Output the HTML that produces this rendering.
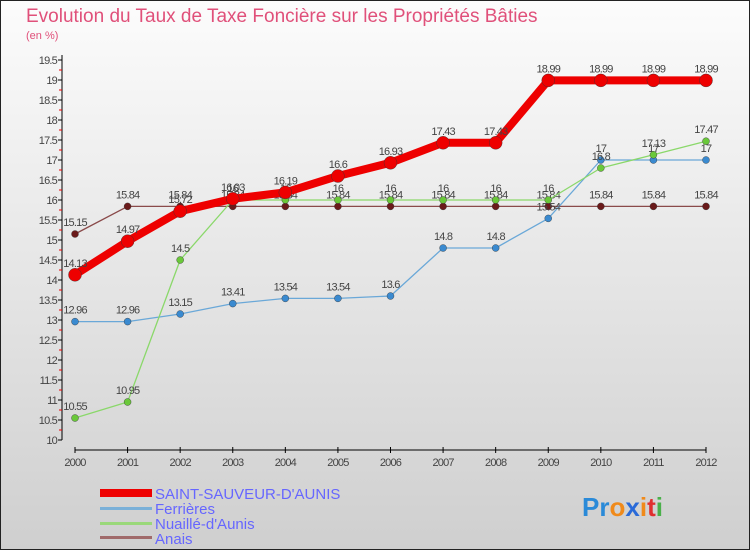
<!DOCTYPE html>
<html><head><meta charset="utf-8"><style>
body{margin:0;width:750px;height:550px;overflow:hidden;font-family:"Liberation Sans",sans-serif}
svg text{font-family:"Liberation Sans",sans-serif}
</style></head><body>
<svg width="750" height="550">
<defs><linearGradient id="bg" x1="0" y1="0" x2="0" y2="1"><stop offset="0" stop-color="#fcfcfc"/><stop offset="1" stop-color="#cfcfcf"/></linearGradient></defs>
<rect x="0.5" y="0.5" width="749" height="549" fill="url(#bg)" stroke="#222"/>
<text x="26" y="22" font-size="19" fill="#e0507a">Evolution du Taux de Taxe Foncière sur les Propriétés Bâties</text>
<text x="26" y="39" font-size="11" fill="#e0507a">(en %)</text>
<g id="axes"></g><g id="series"></g>
<g>
<rect x="100" y="489" width="52" height="8" fill="#e00"/>
<text x="155" y="499" font-size="15" fill="#66f">SAINT-SAUVEUR-D'AUNIS</text>
<rect x="100" y="507" width="52" height="3" fill="#7ab0d8"/>
<text x="155" y="514" font-size="15" fill="#66f">Ferrières</text>
<rect x="100" y="522" width="52" height="3" fill="#9ad87a"/>
<text x="155" y="529" font-size="15" fill="#66f">Nuaillé-d'Aunis</text>
<rect x="100" y="536" width="52" height="3" fill="#a06a6a"/>
<text x="155" y="544" font-size="15" fill="#66f">Anais</text>
</g>
<text x="582" y="516" font-size="26" font-weight="bold"><tspan fill="#2a8ad8">Pr</tspan><tspan fill="#f08a1a">o</tspan><tspan fill="#2a6ad8">x</tspan><tspan fill="#f08a1a">i</tspan><tspan fill="#e03030">t</tspan><tspan fill="#4ab04a">i</tspan></text>
</svg>
<script>
const years=[2000,2001,2002,2003,2004,2005,2006,2007,2008,2009,2010,2011,2012];
const yTicks=[10,10.5,11,11.5,12,12.5,13,13.5,14,14.5,15,15.5,16,16.5,17,17.5,18,18.5,19,19.5];
const saintSauveur=[14.13,14.97,15.72,16.03,16.19,16.6,16.93,17.43,17.43,18.99,18.99,18.99,18.99];
const ferrieres=[12.96,12.96,13.15,13.41,13.54,13.54,13.6,14.8,14.8,15.54,17,17,17];
const nuaille=[10.55,10.95,14.5,16,16,16,16,16,16,16,16.8,17.13,17.47];
const anais=[15.15,15.84,15.84,15.84,15.84,15.84,15.84,15.84,15.84,15.84,15.84,15.84,15.84];
const NS='http://www.w3.org/2000/svg';
const X=i=>75+i*(706-75)/12, Y=v=>440-(v-10)*40;
function mk(t,a,p){const e=document.createElementNS(NS,t);for(const k in a)e.setAttribute(k,a[k]);p.appendChild(e);return e;}
const ax=document.getElementById('axes');
let l=mk('line',{x1:62,y1:55,x2:62,y2:440,stroke:'#000'},ax);


l=mk('line',{x1:75,y1:450,x2:706,y2:450,stroke:'#000'},ax);


yTicks.forEach(v=>{
  mk('line',{x1:58,y1:Y(v),x2:62,y2:Y(v),stroke:'#000'},ax);
  if(v<19.5)mk('line',{x1:59,y1:Y(v+0.25),x2:62,y2:Y(v+0.25),stroke:'#e00'},ax);
  const t=mk('text',{x:57,y:Y(v)+4,'font-size':11,fill:'#444','text-anchor':'end','letter-spacing':'-0.8'},ax);
  t.textContent=v;
  
  
});
years.forEach((y,i)=>{
  mk('line',{x1:X(i),y1:447,x2:X(i),y2:453,stroke:'#000'},ax);
  const t=mk('text',{x:X(i),y:466,'font-size':11,fill:'#444','text-anchor':'middle','letter-spacing':'-0.8'},ax);
  t.textContent=y;
  
  
});
const sg=document.getElementById('series');
function draw(data,color,w,r,dot,name){
  const g=mk('g',{},sg);
  
  
  const p=mk('polyline',{points:data.map((v,i)=>X(i)+','+Y(v)).join(' '),fill:'none',stroke:color,'stroke-width':w,'stroke-linejoin':'round'},g);
  
  
  data.forEach((v,i)=>{
    const c=mk('circle',{cx:X(i),cy:Y(v),r:r,fill:dot,stroke:'#333','stroke-width':0.4},g);
    
    
    const t=mk('text',{x:X(i),y:Y(v)-8,'font-size':11,fill:'#444','text-anchor':'middle','letter-spacing':'-0.8'},g);
    t.textContent=v;
    
    
  });
}
draw(anais,'#8a4a4a',1.3,3.5,'#6a1a1a','anais');
draw(ferrieres,'#6aa8d8',1.3,3.5,'#3a8ad0','ferrieres');
draw(nuaille,'#8ad86a',1.3,3.5,'#6ac83a','nuaille');
draw(saintSauveur,'#e00',8,6.5,'#e00','saint-sauveur');
</script>
</body></html>
